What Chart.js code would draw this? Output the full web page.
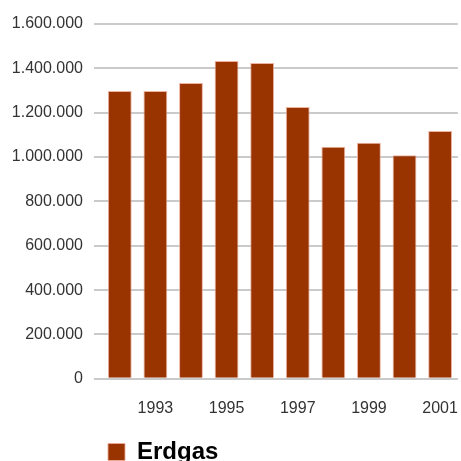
<!DOCTYPE html>
<html>
<head>
<meta charset="utf-8">
<script src="https://cdn.jsdelivr.net/npm/chart.js@4"></script>
<style>
    html, body { margin: 0; padding: 0; background: #fff; overflow: hidden; }
    /* taller than the window: the legend is cut off at the bottom like in the original */
    #wrap { width: 461px; height: 474px; position: relative; }
</style>
</head>
<body>
<div id="wrap"><canvas id="chart"></canvas></div>
<script>
// Erdgas per year
const years = ['1992', '1993', '1994', '1995', '1996', '1997', '1998', '1999', '2000', '2001'];
const erdgas = [1298000, 1298000, 1334000, 1433000, 1424000, 1226000, 1046000, 1064000, 1008000, 1118000];
const seriesName = 'Erdgas';
const yMax = 1600000;
const yStep = 200000;

// 1600000 -> "1.600.000"
function formatDe(n) {
    return String(Math.round(n)).replace(/\B(?=(\d{3})+(?!\d))/g, '.');
}

const ctx = document.getElementById('chart').getContext('2d');
new Chart(ctx, {
    type: 'bar',
    data: {
        labels: years,
        datasets: [{
            label: seriesName,
            data: erdgas,
            backgroundColor: '#993300',
            borderColor: 'rgba(235,170,150,0.9)',
            borderWidth: 1,
            categoryPercentage: 1.0,
            barPercentage: 0.67
        }]
    },
    options: {
        responsive: true,
        maintainAspectRatio: false,
        animation: false,
        layout: { padding: { top: 24, left: 0, right: 2, bottom: 0 } },
        plugins: {
            tooltip: { enabled: false },
            legend: {
                position: 'bottom',
                align: 'start',
                fullSize: false,
                labels: {
                    boxWidth: 17,
                    boxHeight: 17,
                    padding: 6,
                    color: '#000',
                    font: { family: '"Liberation Sans", Arial, sans-serif', size: 24, weight: 'bold' }
                }
            }
        },
        scales: {
            x: {
                // invisible tick marks give the gap under the bars without side padding
                grid: { display: true, drawOnChartArea: false, drawTicks: true, tickLength: 17, tickColor: 'rgba(0,0,0,0)' },
                border: { display: false },
                afterFit: (axis) => { axis.height += 13; },
                ticks: {
                    autoSkip: false,
                    maxRotation: 0,
                    padding: 3,
                    color: '#333',
                    font: { family: '"Liberation Sans", Arial, sans-serif', size: 16 },
                    callback: function (value, index) {
                        return index % 2 === 1 ? this.getLabelForValue(value) : '';
                    }
                }
            },
            y: {
                min: 0,
                max: yMax,
                afterFit: (axis) => { axis.width = 102; },
                grid: { color: '#cacaca', lineWidth: 2, tickLength: 8, drawTicks: true },
                border: { display: false },
                ticks: {
                    stepSize: yStep,
                    padding: 11,
                    color: '#333',
                    font: { family: '"Liberation Sans", Arial, sans-serif', size: 16 },
                    callback: (v) => formatDe(v)
                }
            }
        }
    }
});
</script>
</body>
</html>
